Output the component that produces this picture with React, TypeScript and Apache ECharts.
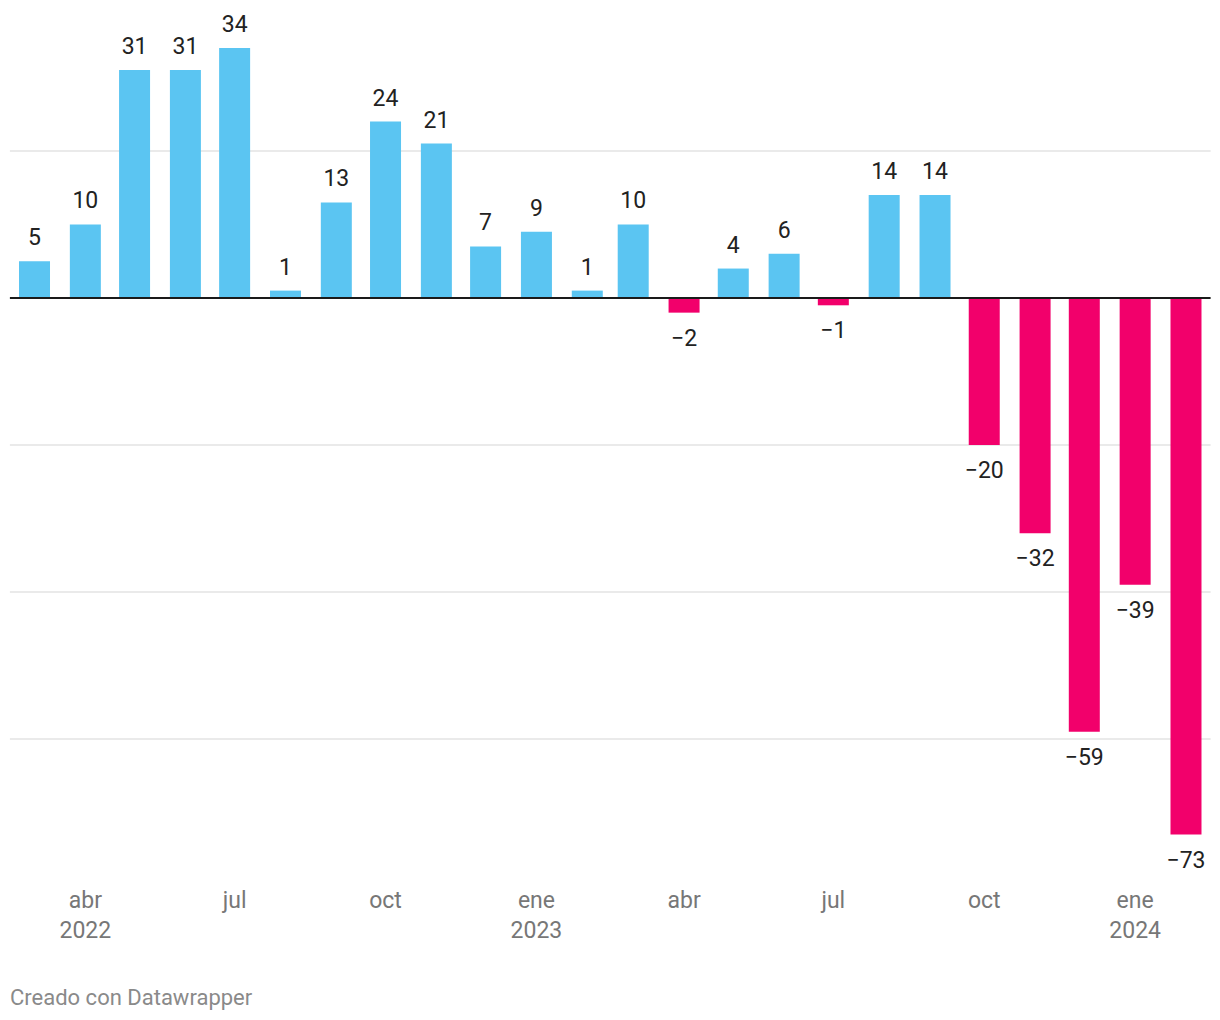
import React, { useEffect, useRef } from "react";
import * as echarts from "echarts";

const months = [
  "2022-03-01", "2022-04-01", "2022-05-01", "2022-06-01", "2022-07-01", "2022-08-01",
  "2022-09-01", "2022-10-01", "2022-11-01", "2022-12-01", "2023-01-01", "2023-02-01",
  "2023-03-01", "2023-04-01", "2023-05-01", "2023-06-01", "2023-07-01", "2023-08-01",
  "2023-09-01", "2023-10-01", "2023-11-01", "2023-12-01", "2024-01-01", "2024-02-01",
];

const values = [5, 10, 31, 31, 34, 1, 13, 24, 21, 7, 9, 1, 10, -2, 4, 6, -1, 14, 14, -20, -32, -59, -39, -73];

const tickDates = [
  "2022-04-01", "2022-07-01", "2022-10-01", "2023-01-01",
  "2023-04-01", "2023-07-01", "2023-10-01", "2024-01-01",
];
const tickLabels = ["abr\n2022", "jul", "oct", "ene\n2023", "abr", "jul", "oct", "ene\n2024"];

const gridValues = [20, -20, -40, -60];

const POS = "#5bc5f2";
const NEG = "#f2006b";

// day number since epoch
const dayNum = (s: string) => {
  const [y, m, d] = s.split("-").map(Number);
  return Date.UTC(y, m - 1, d) / 86400000;
};

export default function App() {
  const ref = useRef<HTMLDivElement>(null);
  useEffect(() => {
    if (!ref.current) return;
    const chart = echarts.init(ref.current, null, { renderer: "svg" });
    const font = "Roboto, 'Noto Sans', sans-serif";
    const tickDays = tickDates.map(dayNum);
    chart.setOption({
      animation: false,
      textStyle: { fontFamily: font },
      grid: { left: 9.9, right: 9.4, top: 48, bottom: 185.4, containLabel: false },
      xAxis: {
        type: "value",
        min: dayNum(months[0]) - 15,
        max: dayNum(months[months.length - 1]) + 15,
        axisLine: { show: false },
        axisTick: { show: false },
        splitLine: { show: false },
        axisLabel: {
          customValues: tickDays,
          margin: 51,
          fontSize: 23,
          lineHeight: 30,
          color: "#777777",
          fontFamily: font,
          formatter: (v: number) => {
            const i = tickDays.findIndex((t) => Math.abs(t - v) < 0.5);
            return i >= 0 ? tickLabels[i] : "";
          },
        },
      },
      yAxis: {
        type: "value",
        min: -73,
        max: 34,
        axisLine: { show: false },
        axisTick: { show: false },
        axisLabel: { show: false },
        splitLine: { show: false },
      },
      series: [
        {
          type: "bar",
          barWidth: 31,
          data: values.map((v, i) => ({
            value: [dayNum(months[i]), v],
            itemStyle: { color: v >= 0 ? POS : NEG },
            label: {
              show: true,
              position: v >= 0 ? "top" : "bottom",
              distance: v >= 0 ? 12 : 14,
            },
          })),
          label: {
            fontSize: 23,
            color: "#222",
            fontFamily: font,
            formatter: (p: any) => String(p.value[1]).replace("-", "\u2212"),
          },
          markLine: {
            z: 1,
            silent: true,
            symbol: "none",
            label: { show: false },
            lineStyle: { color: "#e3e3e3", width: 1.5, type: "solid" },
            data: gridValues.map((g) => ({ yAxis: g })),
          },
        },
        {
          type: "line",
          data: [],
          markLine: {
            z: 6,
            silent: true,
            symbol: "none",
            label: { show: false },
            lineStyle: { color: "#1a1a1a", width: 2, type: "solid" },
            data: [{ yAxis: 0 }],
          },
        },
      ],
      graphic: [
        {
          type: "text",
          left: 10,
          top: 986,
          style: {
            text: "Creado con Datawrapper",
            fontSize: 22,
            fill: "#8a8a8a",
            fontFamily: font,
          },
        },
      ],
    });
    return () => chart.dispose();
  }, []);
  return (
    <div
      ref={ref}
      style={{ position: "absolute", left: 0, top: 0, width: 1220, height: 1020 }}
    />
  );
}
